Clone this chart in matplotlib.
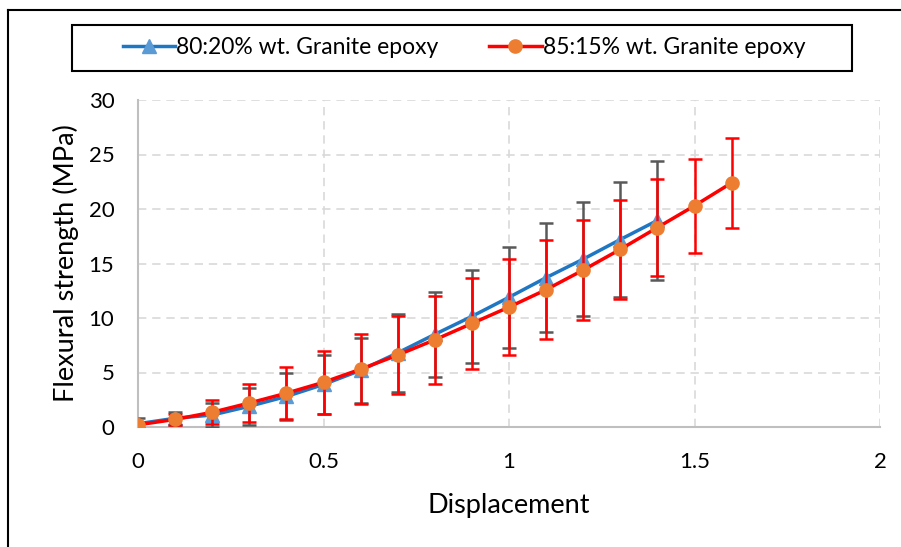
import matplotlib.pyplot as plt
import matplotlib.lines as mlines
import matplotlib.patches as mpatches

plt.rcParams['font.family'] = ['Lato', 'DejaVu Sans']

# data
x_blue = [0, 0.1, 0.2, 0.3, 0.4, 0.5, 0.6, 0.7, 0.8, 0.9, 1.0, 1.1, 1.2, 1.3, 1.4]
y_blue = [0.3, 0.8, 1.1, 1.9, 2.8, 3.9, 5.2, 6.8, 8.5, 10.15, 11.9, 13.7, 15.4, 17.2, 18.95]
err_blue = [0.5, 0.6, 1.1, 1.7, 2.2, 2.7, 3.0, 3.6, 3.9, 4.25, 4.65, 5.0, 5.2, 5.3, 5.45]

x_red = [0, 0.1, 0.2, 0.3, 0.4, 0.5, 0.6, 0.7, 0.8, 0.9, 1.0, 1.1, 1.2, 1.3, 1.4, 1.5, 1.6]
y_red = [0.2, 0.7, 1.35, 2.2, 3.1, 4.1, 5.3, 6.6, 8.0, 9.5, 11.0, 12.6, 14.4, 16.3, 18.3, 20.3, 22.4]
err_red = [0.3, 0.5, 1.1, 1.7, 2.4, 2.9, 3.2, 3.6, 4.05, 4.2, 4.4, 4.55, 4.6, 4.55, 4.45, 4.3, 4.1]

labels = ["80:20% wt. Granite epoxy", "85:15% wt. Granite epoxy"]

W, H = 901, 547
fig = plt.figure(figsize=(W / 100, H / 100), dpi=100)
ax = fig.add_axes([138 / W, 1 - 427 / H, 742 / W, 327 / H])

ax.errorbar(x_blue, y_blue, yerr=err_blue, color='#1F77C4', lw=2.5,
            marker='^', markersize=10, markerfacecolor='#5B9BD5', markeredgecolor='#5B9BD5',
            ecolor='#595959', elinewidth=1.8, capsize=5, capthick=1.8, zorder=3)
ax.errorbar(x_red, y_red, yerr=err_red, color='#FF0000', lw=2.5,
            marker='o', markersize=9.5, markerfacecolor='#ED7D31', markeredgecolor='#ED7D31',
            ecolor='#FF0000', elinewidth=1.8, capsize=5, capthick=1.8, zorder=4)

ax.set_xlim(0, 2)
ax.set_ylim(0, 30)
ax.set_xticks([0, 0.5, 1, 1.5, 2])
ax.set_xticklabels(['0', '0.5', '1', '1.5', '2'])
ax.set_yticks(range(0, 31, 5))
ax.grid(True, color='#D9D9D9', linestyle=(0, (5, 3.5)), lw=1.2)
ax.set_axisbelow(True)
for s in ['top', 'right']:
    ax.spines[s].set_visible(False)
for s in ['left', 'bottom']:
    ax.spines[s].set_color('#BFBFBF')
    ax.spines[s].set_linewidth(1.5)
ax.tick_params(length=0, labelsize=16, colors='#000000')
ax.tick_params(axis='x', pad=18)
ax.tick_params(axis='y', pad=17)
ax.set_xlabel('Displacement', fontsize=19.5, labelpad=15)
ax.set_ylabel('Flexural strength (MPa)', fontsize=19.5, labelpad=7)

h1 = mlines.Line2D([], [], color='#1F77C4', lw=2.5, marker='^', markersize=10,
                   markerfacecolor='#5B9BD5', markeredgecolor='#5B9BD5')
h2 = mlines.Line2D([], [], color='#FF0000', lw=2.5, marker='o', markersize=9.5,
                   markerfacecolor='#ED7D31', markeredgecolor='#ED7D31')
leg = fig.legend([h1, h2], labels, ncol=2, loc='center',
                 bbox_to_anchor=(464 / W, 1 - 48 / H), fontsize=16.5, frameon=False,
                 handlelength=2.3, handletextpad=0.05, columnspacing=2.2)

# legend box drawn by hand
fig.add_artist(mpatches.Rectangle((72 / W, 1 - 71 / H), 780 / W, 46 / H,
                                  transform=fig.transFigure, fill=False,
                                  edgecolor='black', lw=1.5))

# outer frame lines
fig.add_artist(mlines.Line2D([8 / W, 8 / W], [0, 1 - 10 / H], color='black', lw=1.5))
fig.add_artist(mlines.Line2D([8 / W, 1], [1 - 10 / H, 1 - 10 / H], color='black', lw=1.5))

fig.savefig('out.png', dpi=100)
